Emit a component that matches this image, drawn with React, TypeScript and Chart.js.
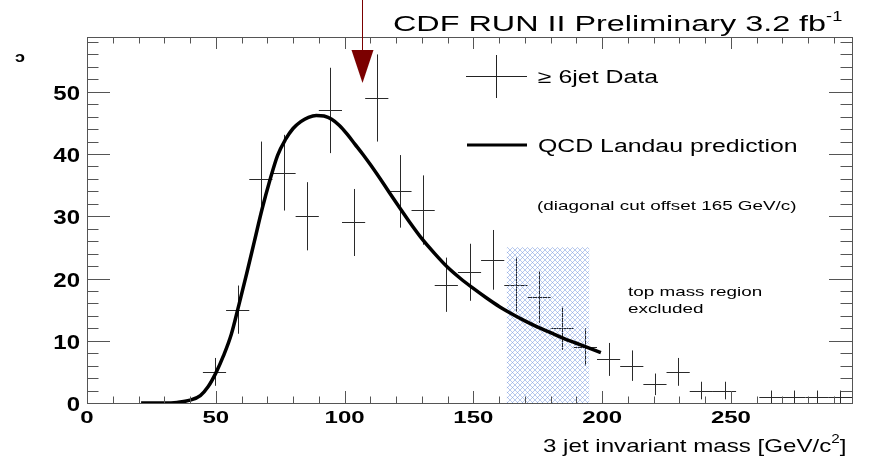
import React, { useEffect, useRef } from "react";
import { Chart, registerables } from "chart.js";

Chart.register(...registerables);

// ---- data ----
const BIN_CENTERS = [
  49.5, 58.5, 67.5, 76.5, 85.5, 94.5, 103.5, 112.5, 121.5, 130.5, 139.5, 148.5, 157.5, 166.5,
  175.5, 184.5, 193.5, 202.5, 211.5, 220.5, 229.5, 238.5, 247.5, 256.5, 265.5, 274.5, 283.5, 292.5,
];
const COUNTS = [
  5, 15, 36, 37, 30, 47, 29, 49, 34, 31, 19, 21, 23, 19, 17, 12, 9, 7, 6, 3, 5, 2, 2, 0, 1, 1, 1, 1,
];
const BIN_HALF_WIDTH = 4.5;

const CURVE_X = [
  21, 30, 35, 40, 44, 47, 50, 53, 56, 59, 62, 65, 68, 71, 74, 77, 80, 83, 86, 89, 92, 95, 98, 101,
  104, 107, 110, 115, 120, 125, 130, 135, 140, 145, 150, 155, 160, 165, 170, 175, 180, 185, 190,
  195, 199.5,
];
const CURVE_Y = [
  0, 0, 0.1, 0.45, 1.2, 2.6, 4.8, 7.6, 11.0, 15.8, 20.8, 26.0, 31.2, 35.8, 39.8, 42.3, 44.1, 45.2,
  45.9, 46.2, 46.1, 45.6, 44.6, 43.2, 41.6, 40.0, 38.3, 35.3, 32.2, 29.2, 26.4, 24.0, 21.8, 20.0,
  18.4, 16.9, 15.5, 14.3, 13.2, 12.2, 11.3, 10.4, 9.6, 8.8, 8.1,
];

const X_MIN = 0;
const X_MAX = 297;
const Y_MIN = 0;
const Y_MAX = 58.8;
const X_TICK_LABELS = [0, 50, 100, 150, 200, 250];
const X_MINOR_STEP = 10;
const Y_TICK_LABELS = [0, 10, 20, 30, 40, 50];
const Y_MINOR_STEP = 2;

const HATCH_X0 = 163;
const HATCH_X1 = 195;
const HATCH_TOP = 25;

const ARROW_X = 106.8;
const ARROW_TIP = 51.4;
const ARROW_BASE = 56.7;

const FONT = '"Liberation Sans", Arial, Helvetica, sans-serif';

function drawText(
  ctx: CanvasRenderingContext2D,
  s: string,
  x: number,
  y: number,
  font: string,
  sx: number,
  align: CanvasTextAlign = "left",
  baseline: CanvasTextBaseline = "alphabetic",
  color = "#000"
) {
  ctx.save();
  ctx.translate(x, y);
  ctx.scale(sx, 1);
  ctx.font = font;
  ctx.textAlign = align;
  ctx.textBaseline = baseline;
  ctx.fillStyle = color;
  ctx.fillText(s, 0, 0);
  const w = ctx.measureText(s).width * sx;
  ctx.restore();
  return w;
}

function makeHatch(ctx: CanvasRenderingContext2D) {
  const c = document.createElement("canvas");
  const n = 5;
  c.width = n;
  c.height = n;
  const g = c.getContext("2d")!;
  g.clearRect(0, 0, n, n);
  g.strokeStyle = "rgba(120,152,222,0.8)";
  g.lineWidth = 0.65;
  g.beginPath();
  g.moveTo(-1, -1);
  g.lineTo(n + 1, n + 1);
  g.moveTo(n + 1, -1);
  g.lineTo(-1, n + 1);
  g.stroke();
  return ctx.createPattern(c, "repeat");
}

const cdfPlugin = {
  id: "cdfDecor",
  beforeDatasetsDraw(chart: any) {
    const ctx: CanvasRenderingContext2D = chart.ctx;
    const xs = chart.scales.x;
    const ys = chart.scales.y;
    const meta = chart.getDatasetMeta(1);
    ctx.save();
    ctx.strokeStyle = "#2a2a2a";
    ctx.lineWidth = 1;
    meta.data.forEach((pt: any, i: number) => {
      const c = COUNTS[i];
      if (c <= 0) return;
      const e = Math.sqrt(c);
      const px = Math.round(pt.x) + 0.5;
      const py = Math.round(pt.y) + 0.5;
      const xl = xs.getPixelForValue(BIN_CENTERS[i] - BIN_HALF_WIDTH);
      const xr = xs.getPixelForValue(BIN_CENTERS[i] + BIN_HALF_WIDTH);
      const yt = ys.getPixelForValue(c + e);
      const yb = ys.getPixelForValue(Math.max(0, c - e));
      ctx.beginPath();
      ctx.moveTo(xl, py);
      ctx.lineTo(xr, py);
      ctx.moveTo(px, yt);
      ctx.lineTo(px, yb);
      ctx.stroke();
    });
    // hatched excluded region (drawn over the data crosses)
    const hx0 = xs.getPixelForValue(HATCH_X0);
    const hx1 = xs.getPixelForValue(HATCH_X1);
    const hy0 = ys.getPixelForValue(HATCH_TOP);
    const hy1 = ys.getPixelForValue(0);
    const pat = makeHatch(ctx);
    if (pat) {
      ctx.fillStyle = pat;
      ctx.fillRect(hx0, hy0, hx1 - hx0, hy1 - hy0);
    }
    ctx.restore();
  },
  afterDraw(chart: any) {
    const ctx: CanvasRenderingContext2D = chart.ctx;
    const xs = chart.scales.x;
    const ys = chart.scales.y;
    const { left, right, top, bottom } = chart.chartArea;
    ctx.save();
    // frame
    ctx.strokeStyle = "#555";
    ctx.lineWidth = 1;
    ctx.strokeRect(Math.round(left) + 0.5, Math.round(top) + 0.5, Math.round(right - left), Math.round(bottom - top));
    // ticks
    ctx.beginPath();
    for (let v = X_MIN; v <= X_MAX; v += X_MINOR_STEP) {
      const px = Math.round(xs.getPixelForValue(v)) + 0.5;
      const major = v % 50 === 0;
      const len = major ? 12 : 6.5;
      ctx.moveTo(px, bottom);
      ctx.lineTo(px, bottom - len);
      ctx.moveTo(px, top);
      ctx.lineTo(px, top + len);
    }
    for (let v = Y_MIN; v <= Y_MAX; v += Y_MINOR_STEP) {
      const py = Math.round(ys.getPixelForValue(v)) + 0.5;
      const major = v % 10 === 0;
      const len = major ? 23 : 11.5;
      ctx.moveTo(left, py);
      ctx.lineTo(left + len, py);
      ctx.moveTo(right, py);
      ctx.lineTo(right - len, py);
    }
    ctx.stroke();

    // tick labels
    X_TICK_LABELS.forEach((v) => {
      drawText(ctx, String(v), xs.getPixelForValue(v), 411, `bold 16px ${FONT}`, 1.5, "center", "top");
    });
    Y_TICK_LABELS.forEach((v) => {
      drawText(ctx, String(v), 80, ys.getPixelForValue(v) + 2.5, `bold 20px ${FONT}`, 1.2, "right", "middle");
    });

    // clipped axis title remnant
    drawText(ctx, "ɔ", 15, 62, `bold 15px ${FONT}`, 1.2);

    // x title
    let w = drawText(ctx, "3 jet invariant mass [GeV/c", 543, 452, `19px ${FONT}`, 1.27);
    const w2 = drawText(ctx, "2", 543 + w, 443, `12px ${FONT}`, 1.27);
    drawText(ctx, "]", 543 + w + w2, 452, `19px ${FONT}`, 1.27);

    // title
    w = drawText(ctx, "CDF RUN II Preliminary 3.2 fb", 393, 31, `22px ${FONT}`, 1.47);
    drawText(ctx, "-1", 393 + w, 21, `14px ${FONT}`, 1.3);

    // legend
    ctx.strokeStyle = "#222";
    ctx.lineWidth = 1;
    ctx.beginPath();
    ctx.moveTo(466, 76.5);
    ctx.lineTo(527, 76.5);
    ctx.moveTo(496.5, 55);
    ctx.lineTo(496.5, 98);
    ctx.stroke();
    drawText(ctx, "≥ 6jet Data", 538, 83, `18px ${FONT}`, 1.38);
    ctx.strokeStyle = "#000";
    ctx.lineWidth = 3;
    ctx.beginPath();
    ctx.moveTo(467, 145);
    ctx.lineTo(527, 145);
    ctx.stroke();
    drawText(ctx, "QCD Landau prediction", 538, 152, `18px ${FONT}`, 1.38);

    drawText(ctx, "(diagonal cut offset 165 GeV/c)", 537, 210, `13px ${FONT}`, 1.45);
    drawText(ctx, "top mass region", 628, 296, `13px ${FONT}`, 1.45);
    drawText(ctx, "excluded", 628, 313, `13px ${FONT}`, 1.45);

    // arrow
    const ax = Math.round(xs.getPixelForValue(ARROW_X)) + 0.5;
    const aTip = ys.getPixelForValue(ARROW_TIP);
    const aBase = ys.getPixelForValue(ARROW_BASE);
    ctx.strokeStyle = "#7b0000";
    ctx.lineWidth = 1;
    ctx.beginPath();
    ctx.moveTo(ax, 0);
    ctx.lineTo(ax, aBase);
    ctx.stroke();
    ctx.fillStyle = "#7b0000";
    ctx.beginPath();
    ctx.moveTo(ax - 11, aBase);
    ctx.lineTo(ax + 11, aBase);
    ctx.lineTo(ax, aTip);
    ctx.closePath();
    ctx.fill();
    ctx.restore();
  },
};

export default function App() {
  const ref = useRef<HTMLCanvasElement>(null);
  useEffect(() => {
    document.body.style.margin = "0";
    const canvas = ref.current!;
    const chart = new Chart(canvas, {
      type: "line",
      data: {
        datasets: [
          {
            type: "line",
            label: "QCD Landau prediction",
            data: CURVE_X.map((x, i) => ({ x, y: CURVE_Y[i] })),
            borderColor: "#000",
            borderWidth: 3.5,
            pointRadius: 0,
            cubicInterpolationMode: "monotone",
            fill: false,
          },
          {
            type: "scatter",
            label: "≥ 6jet Data",
            data: BIN_CENTERS.map((x, i) => ({ x, y: COUNTS[i] })),
            pointRadius: 0,
            showLine: false,
          },
        ],
      } as any,
      options: {
        responsive: false,
        devicePixelRatio: 1,
        animation: false,
        layout: { padding: { left: 87, right: 19, top: 37, bottom: 62 } },
        scales: {
          x: { type: "linear", min: X_MIN, max: X_MAX, display: false },
          y: { type: "linear", min: Y_MIN, max: Y_MAX, display: false },
        },
        plugins: { legend: { display: false }, tooltip: { enabled: false }, title: { display: false } },
      } as any,
      plugins: [cdfPlugin],
    });
    return () => chart.destroy();
  }, []);
  return (
    <div style={{ width: 871, height: 465, background: "#fff" }}>
      <canvas ref={ref} width={871} height={465} style={{ display: "block", width: 871, height: 465 }} />
    </div>
  );
}
